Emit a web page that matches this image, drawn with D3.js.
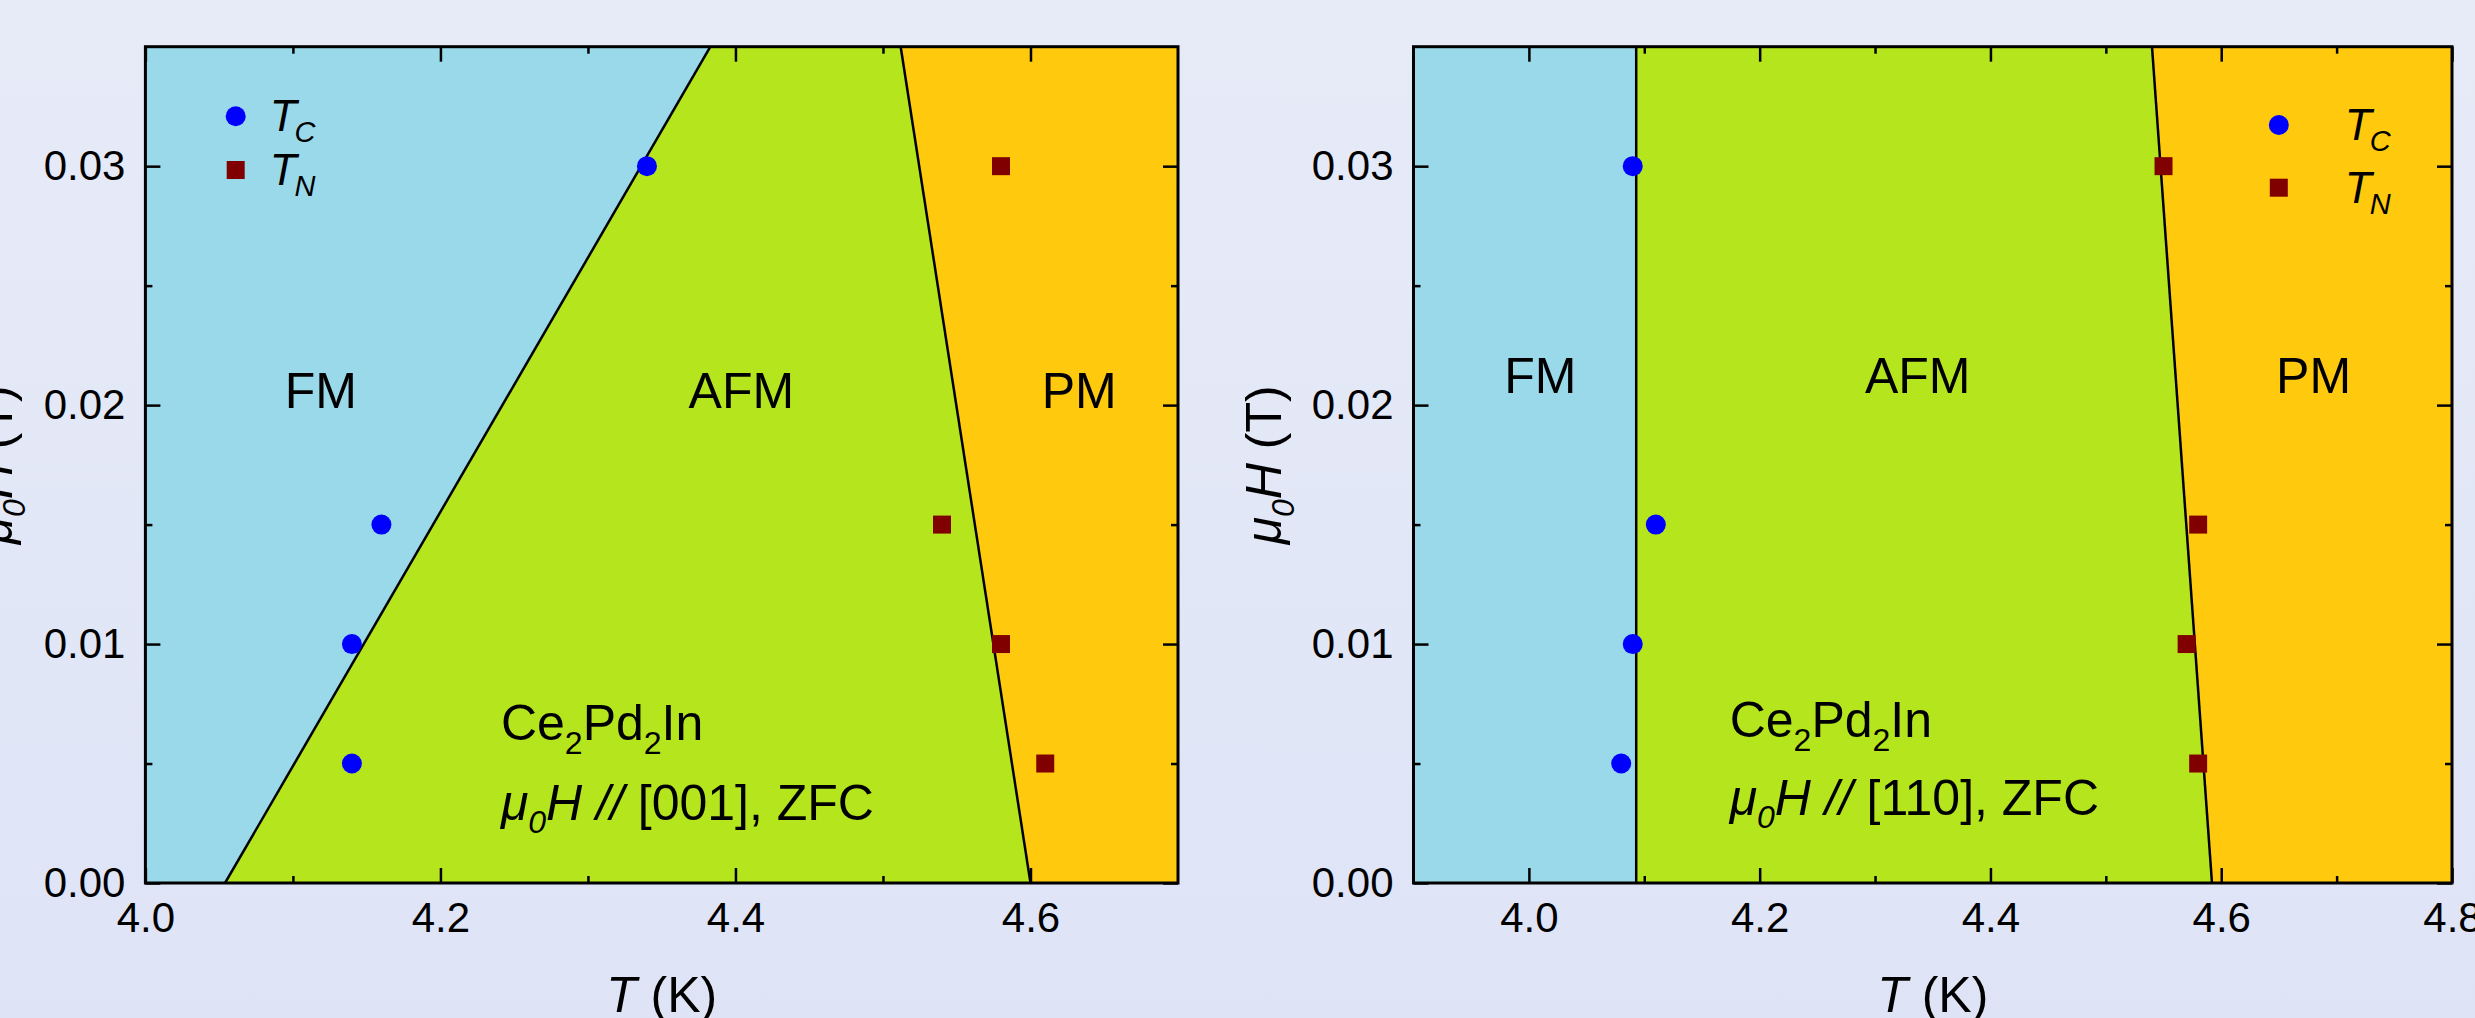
<!DOCTYPE html>
<html>
<head>
<meta charset="utf-8">
<script src="https://cdn.jsdelivr.net/npm/d3@7"></script>
<style>
  html, body { margin: 0; padding: 0; overflow: hidden; }
  svg { display: block; }
  text { font-family: "Liberation Sans", Arial, sans-serif; fill: #000; white-space: pre; }
</style>
</head>
<body>
<svg id="chart" width="2475" height="1018"></svg>
<script>
// Magnetic fields (T) at which the transitions were measured
const fieldValues = [0.005, 0.010, 0.015, 0.030];
// Transition temperatures (K), field along [001]
const tc001 = [4.14, 4.14, 4.16, 4.34];
const tn001 = [4.61, 4.58, 4.54, 4.58];
// Transition temperatures (K), field along [110]
const tc110 = [4.08, 4.09, 4.11, 4.09];
const tn110 = [4.58, 4.57, 4.58, 4.55];

// Phase boundaries: temperature (K) at the bottom and top of the field range
const fieldSpan = [0, 0.035];
const fmAfm001 = [4.054, 4.383];
const afmPm001 = [4.600, 4.512];
const fmAfm110 = [4.093, 4.093];
const afmPm110 = [4.592, 4.540];

// Axis ranges and ticks
const tempDomain001 = [4.0, 4.7];
const tempDomain110 = [3.9, 4.8];
const tempMajor001 = [4.0, 4.2, 4.4, 4.6];
const tempMinor001 = [4.1, 4.3, 4.5];
const tempMajor110 = [4.0, 4.2, 4.4, 4.6, 4.8];
const tempMinor110 = [4.1, 4.3, 4.5, 4.7];
const fieldMajor = [0.00, 0.01, 0.02, 0.03];
const fieldMinor = [0.005, 0.015, 0.025];

// Phase names, fills and label anchors (T, H)
const phaseNames = ["FM", "AFM", "PM"];
const phaseColors = ["#99D9EA", "#B5E61D", "#FFC90E"];
const phaseLabelT001 = [4.119, 4.404, 4.633];
const phaseLabelT110 = [4.010, 4.337, 4.680];
const phaseLabelH001 = 0.0199;
const phaseLabelH110 = 0.0205;

// Sample note anchors (T, H of each line's baseline)
const noteT001 = 4.241;
const noteH001 = [0.0060, 0.00264];
const noteT110 = 4.174;
const noteH110 = [0.0061, 0.00285];

const W = 2475, H = 1018;
const plotTop = 46.7, plotBottom = 883;
const FONT = '"Liberation Sans", Arial, sans-serif';

const panels = [
  { id: "a", left: 145.4, right: 1178, tDomain: tempDomain001, major: tempMajor001, minor: tempMinor001,
    b1: fmAfm001, b2: afmPm001, tc: tc001, tn: tn001,
    labelT: phaseLabelT001, labelH: phaseLabelH001,
    dir: "[001]", noteT: noteT001, noteH: noteH001,
    legend: { dx: 90.3, dy: 69.6, gap: 34, step: 53.7 } },
  { id: "b", left: 1413.5, right: 2452, tDomain: tempDomain110, major: tempMajor110, minor: tempMinor110,
    b1: fmAfm110, b2: afmPm110, tc: tc110, tn: tn110,
    labelT: phaseLabelT110, labelH: phaseLabelH110,
    dir: "[110]", noteT: noteT110, noteH: noteH110,
    legend: { dx: 865.3, dy: 78.3, gap: 66, step: 62.7 } }
];

const svg = d3.select("#chart");
const defs = svg.append("defs");
const grad = defs.append("linearGradient").attr("id", "bg")
  .attr("x1", 0).attr("y1", 0).attr("x2", 0).attr("y2", 1);
grad.append("stop").attr("offset", "0%").attr("stop-color", "#E7EBF8");
grad.append("stop").attr("offset", "100%").attr("stop-color", "#DEE4F6");
svg.append("rect").attr("width", W).attr("height", H).attr("fill", "url(#bg)");

const fmtT = d3.format(".1f");
const fmtH = d3.format(".2f");

function styleAxis(sel, fontSize) {
  sel.attr("font-size", null).attr("font-family", null);
  sel.select(".domain").remove();
  sel.selectAll(".tick line").attr("stroke", "#000").attr("stroke-width", 2.5);
  sel.selectAll(".tick text")
    .attr("font-size", fontSize).attr("font-family", FONT).attr("fill", "#000");
}

panels.forEach(p => {
  const x = d3.scaleLinear().domain(p.tDomain).range([p.left, p.right]);
  const y = d3.scaleLinear().domain(fieldSpan).range([plotBottom, plotTop]);
  const [h0, h1] = fieldSpan;
  const [t0, t1] = p.tDomain;

  const g = svg.append("g");
  const clipId = "clip-" + p.id;
  defs.append("clipPath").attr("id", clipId).append("rect")
    .attr("x", p.left).attr("y", plotTop)
    .attr("width", p.right - p.left).attr("height", plotBottom - plotTop);
  const area = g.append("g").attr("clip-path", `url(#${clipId})`);

  // Phase regions
  const line = d3.line().x(d => x(d[0])).y(d => y(d[1]));
  const polys = [
    [[t0, h0], [p.b1[0], h0], [p.b1[1], h1], [t0, h1]],
    [[p.b1[0], h0], [p.b2[0], h0], [p.b2[1], h1], [p.b1[1], h1]],
    [[p.b2[0], h0], [t1, h0], [t1, h1], [p.b2[1], h1]]
  ];
  area.selectAll("path.phase").data(polys).join("path")
    .attr("class", "phase")
    .attr("d", d => line(d) + "Z")
    .attr("fill", (d, i) => phaseColors[i])
    .attr("stroke", (d, i) => phaseColors[i])
    .attr("stroke-width", 1);

  // Boundary lines
  [p.b1, p.b2].forEach(b => {
    area.append("path")
      .attr("d", line([[b[0], h0], [b[1], h1]]))
      .attr("fill", "none").attr("stroke", "#000").attr("stroke-width", 2.5);
  });

  // Phase labels
  g.selectAll("text.phase").data(phaseNames).join("text")
    .attr("class", "phase")
    .attr("x", (d, i) => x(p.labelT[i]))
    .attr("y", y(p.labelH))
    .attr("text-anchor", "middle")
    .attr("font-size", 50)
    .text(d => d);

  // Sample note
  const n1 = g.append("text").attr("x", x(p.noteT)).attr("y", y(p.noteH[0])).attr("font-size", 50);
  n1.append("tspan").text("Ce");
  n1.append("tspan").attr("font-size", 32).attr("dy", 14).text("2");
  n1.append("tspan").attr("dy", -14).text("Pd");
  n1.append("tspan").attr("font-size", 32).attr("dy", 14).text("2");
  n1.append("tspan").attr("dy", -14).text("In");

  const n2 = g.append("text").attr("x", x(p.noteT)).attr("y", y(p.noteH[1])).attr("font-size", 50);
  n2.append("tspan").attr("font-style", "italic").text("\u03BC");
  n2.append("tspan").attr("font-style", "italic").attr("font-size", 32).attr("dy", 13).text("0");
  n2.append("tspan").attr("font-style", "italic").attr("dy", -13).text("H //");
  n2.append("tspan").text(" " + p.dir + ", ZFC");

  // Data markers
  const pts = (temps) => temps.map((t, i) => [t, fieldValues[i]]);
  g.selectAll("circle.tc").data(pts(p.tc)).join("circle")
    .attr("class", "tc")
    .attr("cx", d => x(d[0])).attr("cy", d => y(d[1]))
    .attr("r", 10).attr("fill", "#0000FF");
  const sq = d3.symbol(d3.symbolSquare, 18 * 18);
  g.selectAll("path.tn").data(pts(p.tn)).join("path")
    .attr("class", "tn")
    .attr("transform", d => `translate(${x(d[0])},${y(d[1])})`)
    .attr("d", sq).attr("fill", "#800000");

  // Axes with inward ticks
  const ax = g.append("g");
  ax.append("g").attr("transform", `translate(0,${plotBottom})`)
    .call(d3.axisBottom(x).tickValues(p.major).tickSize(-15).tickPadding(19).tickFormat(fmtT))
    .call(s => styleAxis(s, 42));
  ax.append("g").attr("transform", `translate(0,${plotBottom})`)
    .call(d3.axisBottom(x).tickValues(p.minor).tickSize(-7).tickFormat(""))
    .call(s => styleAxis(s, 42));
  ax.append("g").attr("transform", `translate(0,${plotTop})`)
    .call(d3.axisTop(x).tickValues(p.major).tickSize(-15).tickFormat(""))
    .call(s => styleAxis(s, 42));
  ax.append("g").attr("transform", `translate(0,${plotTop})`)
    .call(d3.axisTop(x).tickValues(p.minor).tickSize(-7).tickFormat(""))
    .call(s => styleAxis(s, 42));
  ax.append("g").attr("transform", `translate(${p.left},0)`)
    .call(d3.axisLeft(y).tickValues(fieldMajor).tickSize(-15).tickPadding(20).tickFormat(fmtH))
    .call(s => styleAxis(s, 42));
  ax.append("g").attr("transform", `translate(${p.left},0)`)
    .call(d3.axisLeft(y).tickValues(fieldMinor).tickSize(-7).tickFormat(""))
    .call(s => styleAxis(s, 42));
  ax.append("g").attr("transform", `translate(${p.right},0)`)
    .call(d3.axisRight(y).tickValues(fieldMajor).tickSize(-15).tickFormat(""))
    .call(s => styleAxis(s, 42));
  ax.append("g").attr("transform", `translate(${p.right},0)`)
    .call(d3.axisRight(y).tickValues(fieldMinor).tickSize(-7).tickFormat(""))
    .call(s => styleAxis(s, 42));

  // Frame
  g.append("rect")
    .attr("x", p.left).attr("y", plotTop)
    .attr("width", p.right - p.left).attr("height", plotBottom - plotTop)
    .attr("fill", "none").attr("stroke", "#000").attr("stroke-width", 3);

  // Axis titles
  const xt = g.append("text")
    .attr("x", (p.left + p.right) / 2).attr("y", 1012)
    .attr("text-anchor", "middle").attr("font-size", 50);
  xt.append("tspan").attr("font-style", "italic").text("T");
  xt.append("tspan").text(" (K)");

  const yt = g.append("text")
    .attr("transform", `translate(${p.left - 133},${(plotTop + plotBottom) / 2}) rotate(-90)`)
    .attr("text-anchor", "middle").attr("font-size", 50);
  yt.append("tspan").attr("font-style", "italic").text("\u03BC");
  yt.append("tspan").attr("font-style", "italic").attr("font-size", 32).attr("dy", 13).text("0");
  yt.append("tspan").attr("font-style", "italic").attr("dy", -13).text("H");
  yt.append("tspan").text(" (T)");

  // Legend
  const lx = p.left + p.legend.dx, ly = plotTop + p.legend.dy;
  g.append("circle").attr("cx", lx).attr("cy", ly).attr("r", 10).attr("fill", "#0000FF");
  g.append("path").attr("transform", `translate(${lx},${ly + p.legend.step})`)
    .attr("d", sq).attr("fill", "#800000");
  [["C", 0], ["N", 1]].forEach(([sub, k]) => {
    const t = g.append("text")
      .attr("x", lx + p.legend.gap).attr("y", ly + k * p.legend.step + 15)
      .attr("font-size", 44).attr("font-style", "italic");
    t.append("tspan").text("T");
    t.append("tspan").attr("font-size", 29).attr("dy", 11).attr("dx", -2).text(sub);
  });
});
</script>
</body>
</html>
